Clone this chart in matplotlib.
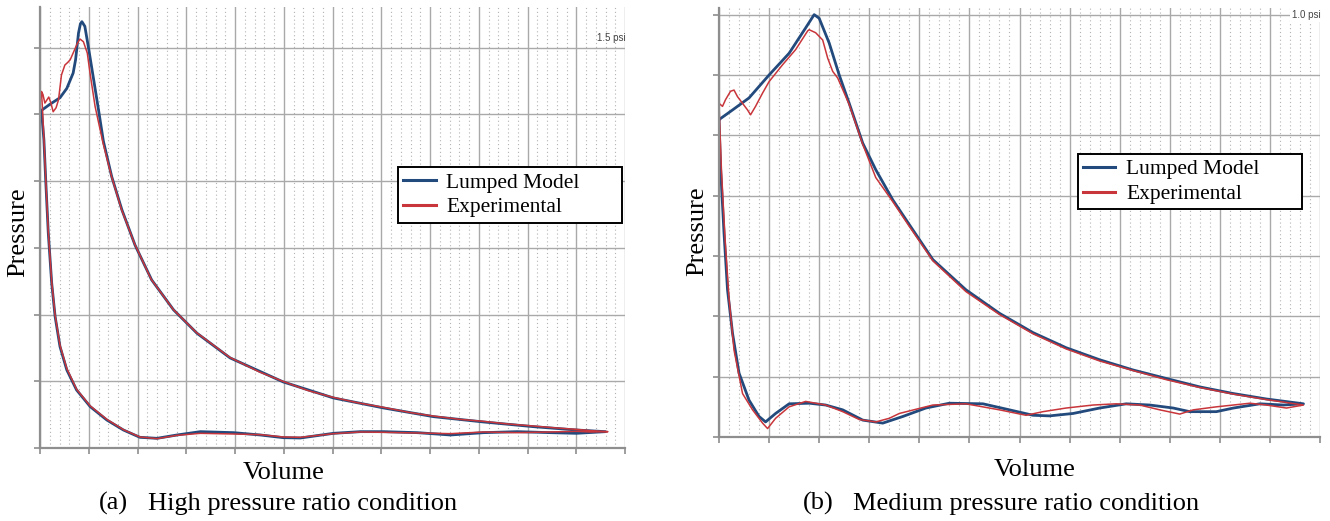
import numpy as np
import matplotlib.pyplot as plt
from matplotlib.lines import Line2D

plt.rcParams['font.family'] = ['Liberation Serif', 'DejaVu Serif']

# (a) high pressure ratio: loop, volume / pressure in grid units
lumped_a_v = [0.03, 0.2, 0.41, 0.55, 0.68, 0.73, 0.79, 0.83, 0.86, 0.92, 0.99, 1.09, 1.2, 1.3, 1.47, 1.68,
              1.95, 2.29, 2.74, 3.22, 3.9, 4.99, 6.02, 7.05, 8.07, 9.1, 10.12, 11.0, 11.6,
              11.0, 10.47, 9.79, 9.1, 8.42, 7.74, 7.05, 6.57, 6.02, 5.34, 4.99, 4.52, 3.97, 3.29,
              2.81, 2.4, 2.05, 1.71, 1.37, 1.03, 0.75, 0.55, 0.41, 0.31, 0.24, 0.17, 0.12, 0.08, 0.03]
lumped_a_p = [5.06, 5.15, 5.25, 5.39, 5.62, 5.82, 6.22, 6.36, 6.39, 6.32, 6.02, 5.57, 5.07, 4.6, 4.07, 3.57,
              3.04, 2.52, 2.07, 1.72, 1.35, 0.99, 0.75, 0.6, 0.47, 0.39, 0.32, 0.27, 0.245,
              0.22, 0.23, 0.245, 0.23, 0.195, 0.23, 0.245, 0.245, 0.22, 0.15, 0.155, 0.195, 0.23, 0.245,
              0.195, 0.145, 0.16, 0.27, 0.42, 0.62, 0.87, 1.17, 1.52, 1.97, 2.47, 3.22, 3.97, 4.62, 5.06]

exp_a_v = [0.03, 0.06, 0.1, 0.18, 0.22, 0.27, 0.33, 0.38, 0.44, 0.51, 0.57, 0.62, 0.68, 0.77, 0.82, 0.89,
           0.97, 1.03, 1.13, 1.29, 1.46, 1.67, 1.94, 2.28, 2.73, 3.21, 3.89, 4.5, 4.98, 5.5, 6.01, 6.5,
           7.04, 7.6, 8.06, 8.6, 9.09, 9.6, 10.11, 10.6, 10.99, 11.3, 11.65,
           11.3, 11.0, 10.47, 9.79, 9.1, 8.42, 7.74, 7.05, 6.57, 6.02, 5.34, 4.99, 4.52, 3.97, 3.29,
           2.81, 2.4, 2.05, 1.71, 1.37, 1.03, 0.75, 0.55, 0.41, 0.31, 0.24, 0.17, 0.12, 0.08, 0.05, 0.03]
exp_a_p = [5.34, 5.3, 5.17, 5.26, 5.18, 5.04, 5.1, 5.22, 5.59, 5.74, 5.78, 5.82, 5.92, 6.07, 6.13, 6.09,
           5.92, 5.6, 5.12, 4.58, 4.09, 3.58, 3.06, 2.53, 2.08, 1.73, 1.36, 1.14, 1.0, 0.86, 0.76, 0.68,
           0.61, 0.53, 0.48, 0.43, 0.4, 0.36, 0.33, 0.3, 0.28, 0.26, 0.245,
           0.24, 0.25, 0.24, 0.23, 0.24, 0.215, 0.225, 0.235, 0.24, 0.215, 0.16, 0.165, 0.2, 0.21, 0.22,
           0.19, 0.14, 0.165, 0.275, 0.43, 0.63, 0.88, 1.19, 1.54, 1.99, 2.49, 3.24, 3.99, 4.64, 5.1, 5.34]

# (b) medium pressure ratio
lumped_b_v = [0.0, 0.27, 0.6, 1.0, 1.4, 1.73, 1.9, 2.0, 2.2, 2.4, 2.6, 2.87, 3.13, 3.47, 3.8, 4.27,
              4.93, 5.6, 6.27, 6.93, 7.6, 8.27, 8.93, 9.6, 10.27, 10.93, 11.67,
              11.27, 10.8, 10.27, 9.93, 9.4, 9.07, 8.6, 8.13, 7.6, 7.07, 6.6, 6.27, 5.8, 5.27, 4.6,
              4.13, 3.67, 3.27, 2.87, 2.47, 2.13, 1.8, 1.4, 1.13, 0.93, 0.8, 0.6, 0.4, 0.27, 0.17,
              0.1, 0.03, 0.0]
lumped_b_p = [5.26, 5.42, 5.62, 6.0, 6.36, 6.78, 7.0, 6.94, 6.53, 6.0, 5.53, 4.87, 4.43, 3.93, 3.52, 2.94,
              2.44, 2.05, 1.73, 1.48, 1.28, 1.11, 0.97, 0.83, 0.72, 0.63, 0.55,
              0.53, 0.55, 0.48, 0.42, 0.42, 0.48, 0.53, 0.55, 0.48, 0.39, 0.35, 0.36, 0.45, 0.55, 0.56,
              0.48, 0.34, 0.23, 0.28, 0.45, 0.53, 0.56, 0.55, 0.39, 0.25, 0.34, 0.61, 1.06, 1.72, 2.44,
              3.38, 4.48, 5.26]

exp_b_v = [0.0, 0.07, 0.13, 0.23, 0.3, 0.37, 0.47, 0.57, 0.63, 0.73, 0.87, 1.0, 1.27, 1.53, 1.77, 1.8,
           1.93, 2.07, 2.17, 2.27, 2.37, 2.6, 2.87, 3.13, 3.47, 3.8, 4.27, 4.93, 5.6, 6.27, 6.93, 7.6,
           8.27, 8.93, 9.6, 10.27, 10.93, 11.67,
           11.33, 10.93, 10.6, 10.27, 9.93, 9.47, 9.2, 8.8, 8.4, 7.93, 7.47, 6.93, 6.47, 6.13, 5.6,
           4.93, 4.27, 3.6, 3.4, 3.13, 2.8, 2.47, 2.13, 1.73, 1.4, 1.13, 0.97, 0.87, 0.67, 0.47, 0.3,
           0.2, 0.12, 0.05, 0.0]
exp_b_p = [5.53, 5.48, 5.59, 5.73, 5.75, 5.64, 5.53, 5.42, 5.34, 5.48, 5.7, 5.89, 6.17, 6.42, 6.73, 6.75,
           6.7, 6.58, 6.28, 6.06, 5.95, 5.51, 4.85, 4.3, 3.9, 3.49, 2.92, 2.41, 2.03, 1.71, 1.46, 1.26,
           1.1, 0.95, 0.82, 0.71, 0.62, 0.53,
           0.48, 0.53, 0.56, 0.53, 0.5, 0.45, 0.38, 0.45, 0.53, 0.55, 0.53, 0.48, 0.42, 0.36, 0.45,
           0.55, 0.53, 0.39, 0.31, 0.25, 0.29, 0.42, 0.53, 0.59, 0.5, 0.31, 0.14, 0.23, 0.45, 0.72, 1.44,
           2.3, 3.3, 4.4, 5.53]

blue = '#234a7c'
red = '#c8353a'

fig = plt.figure(figsize=(13.3, 5.21), dpi=100)
ax1 = fig.add_axes([40 / 1330, 73 / 521, 585 / 1330, 441 / 521])
ax2 = fig.add_axes([719 / 1330, 84 / 521, 601 / 1330, 429 / 521])


def style(ax, ymax):
    ax.set_xlim(0, 12)
    ax.set_ylim(0, ymax)
    ax.set_xticks(range(13))
    ax.set_yticks(range(int(ymax) + 1))
    ax.set_xticks(np.arange(0, 12, 0.2), minor=True)
    ax.grid(True, which='major', color='#a9a9a9', lw=1.0)
    ax.grid(True, which='minor', axis='x', color='#b3b3b3', lw=0.8, linestyle=(0, (1, 2.5)))
    ax.set_axisbelow(True)
    for s in ['top', 'right']:
        ax.spines[s].set_visible(False)
    for s in ['left', 'bottom']:
        ax.spines[s].set_color('#8e8e8e')
        ax.spines[s].set_linewidth(1.6)
    ax.tick_params(which='major', length=4, width=1.2, color='#8e8e8e',
                   labelleft=False, labelbottom=False)
    ax.tick_params(which='minor', length=0)


style(ax1, 6.61)
style(ax2, 7.11)

ax1.plot(lumped_a_v, lumped_a_p, color=blue, lw=2.0)
ax1.plot(exp_a_v, exp_a_p, color=red, lw=1.1)
ax2.plot(lumped_b_v, lumped_b_p, color=blue, lw=2.0)
ax2.plot(exp_b_v, exp_b_p, color=red, lw=1.1)

ax1.text(11.43, 6.15, '1.5 psi', family='Liberation Sans', fontsize=7, color='#444444',
         va='center', ha='left', clip_on=False)
ax2.text(11.44, 7.0, '1.0 psi', family='Liberation Sans', fontsize=7, color='#444444',
         va='center', ha='left', clip_on=False,
         bbox=dict(facecolor='white', edgecolor='none', pad=1.5))

handles = [Line2D([], [], color=blue, lw=2.2), Line2D([], [], color=red, lw=2.2)]
names = ['Lumped Model', 'Experimental']
for ax, (x0, y0, w) in [(ax1, (0.612, 0.637, 0.383)), (ax2, (0.597, 0.66, 0.373))]:
    leg = ax.legend(handles, names, loc='upper left', bbox_to_anchor=(x0, y0 - 0.2, w, 0.2),
                    mode='expand', borderaxespad=0, fancybox=False, framealpha=1,
                    edgecolor='black', fontsize=15.5, handlelength=1.5, handletextpad=0.5,
                    labelspacing=0.22, borderpad=0.25)
    leg.get_frame().set_linewidth(1.4)

fs = 19
fig.text(18 / 1330, 1 - 232 / 521, 'Pressure', rotation=90, fontsize=fs, ha='center', va='center')
fig.text(697 / 1330, 1 - 231 / 521, 'Pressure', rotation=90, fontsize=fs, ha='center', va='center')
fig.text(284 / 1330, 1 - 479 / 521, 'Volume', fontsize=fs, ha='center', va='baseline')
fig.text(1035 / 1330, 1 - 476 / 521, 'Volume', fontsize=fs, ha='center', va='baseline')
fig.text(99 / 1330, 1 - 510 / 521, '(a)', fontsize=fs, ha='left', va='baseline')
fig.text(148 / 1330, 1 - 510 / 521, 'High pressure ratio condition', fontsize=fs, ha='left', va='baseline')
fig.text(803 / 1330, 1 - 510 / 521, '(b)', fontsize=fs, ha='left', va='baseline')
fig.text(853 / 1330, 1 - 510 / 521, 'Medium pressure ratio condition', fontsize=fs, ha='left', va='baseline')

fig.savefig('out.png', dpi=100)
